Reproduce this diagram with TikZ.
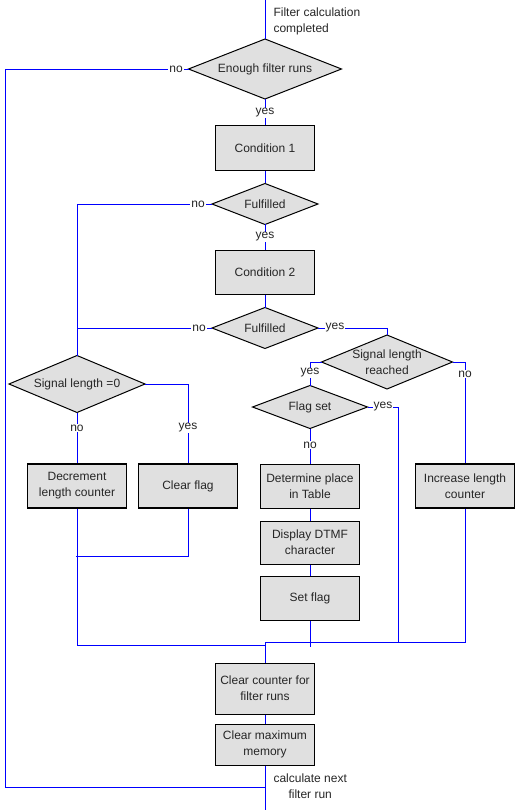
\documentclass[tikz,border=0pt]{standalone}
\usepackage{fontspec}
\setmainfont{Liberation Sans}
\usetikzlibrary{shapes.geometric}
\begin{document}
\begin{tikzpicture}[x=1pt,y=-1pt,
  every node/.style={font=\fontsize{12}{16}\selectfont, text=black!85},
  conn/.style={draw=blue, line width=0.9pt},
  box/.style={draw=black, line width=1pt, fill=black!12, inner sep=0pt, align=center, minimum width=99pt, minimum height=44pt},
  tbox/.style={box, line width=1.7pt},
  dia/.style={diamond, draw=black, line width=1pt, fill=black!12, inner sep=0pt, outer sep=0pt},
  dlab/.style={align=center, font=\fontsize{12}{16}\selectfont, text=black!85},
  yn/.style={fill=white, inner sep=1pt}
]
\useasboundingbox (0,0) rectangle (531,810);

% diamonds
\node[dia, minimum width=153pt, minimum height=60pt, label={[dlab]center:Enough filter runs}] (d1) at (265,69) {};
\node[dia, minimum width=106pt, minimum height=41pt, label={[dlab]center:Fulfilled}] (f1) at (265,204) {};
\node[dia, minimum width=106pt, minimum height=41pt, label={[dlab]center:Fulfilled}] (f2) at (265,328) {};
\node[dia, minimum width=131pt, minimum height=54pt, label={[dlab]center:Signal length\\reached}] (slr) at (387,362) {};
\node[dia, minimum width=115pt, minimum height=43pt, label={[dlab]center:Flag set}] (fs) at (310,407) {};
\node[dia, minimum width=136pt, minimum height=57pt, label={[dlab]center:Signal length =0}] (sl0) at (77,384) {};

% boxes
\node[box, minimum height=45pt] (c1) at (265,148.5) {Condition 1};
\node[box] (c2) at (265,272) {Condition 2};
\node[tbox] (dec) at (77,486) {Decrement\\length counter};
\node[tbox] (cf) at (188,486) {Clear flag};
\node[box] (det) at (310,486) {Determine place\\in Table};
\node[tbox] (inc) at (465,486) {Increase length\\counter};
\node[box, minimum height=43pt] (disp) at (310,542.5) {Display DTMF\\character};
\node[box] (sf) at (310,598) {Set flag};
\node[box, minimum height=51pt] (cc) at (265,688.5) {Clear counter for\\filter runs};
\node[box, minimum height=41pt] (cm) at (265,744.5) {Clear maximum\\memory};

% free texts
\node[anchor=west, align=left] (t1) at (270,21) {Filter calculation\\completed};
\node[anchor=west, align=center] (t2) at (270,786.5) {calculate next\\filter run};

% coordinates
\coordinate (top) at (265,0);
\coordinate (bot) at (265,810);
\coordinate (lt) at (5,69);
\coordinate (lb) at (5,787);
\coordinate (mb) at (265,787);
\coordinate (f1l) at (77,204);
\coordinate (f2l) at (77,328);
\coordinate (f2r) at (387,328);
\coordinate (slrl) at (310,362);
\coordinate (slrr) at (465,362);
\coordinate (fsr) at (398,407);
\coordinate (fsb) at (398,643);
\coordinate (sfb) at (310,647);
\coordinate (incb) at (465,642);
\coordinate (mj) at (265,642);
\coordinate (sl0r) at (188,384);
\coordinate (decb) at (77,645);
\coordinate (mj2) at (265,645);
\coordinate (cfb) at (188,556);
\coordinate (cfl) at (76,556);

% connectors
\draw[conn] (top) -- (d1.north);
\draw[conn] (d1.west) -- (lt) -- (lb) -- (mb);
\draw[conn] (d1.south) -- (c1.north);
\draw[conn] (c1.south) -- (f1.north);
\draw[conn] (f1.west) -- (f1l) -- (sl0.north);
\draw[conn] (f1.south) -- (c2.north);
\draw[conn] (c2.south) -- (f2.north);
\draw[conn] (f2.west) -- (f2l);
\draw[conn] (f2.east) -- (f2r) -- (slr.north);
\draw[conn] (slr.west) -- (slrl) -- (fs.north);
\draw[conn] (slr.east) -- (slrr) -- (inc.north);
\draw[conn] (fs.east) -- (fsr) -- (fsb);
\draw[conn] (fs.south) -- (det.north);
\draw[conn] (det.south) -- (disp.north);
\draw[conn] (disp.south) -- (sf.north);
\draw[conn] (sf.south) -- (sfb);
\draw[conn] (inc.south) -- (incb) -- (mj) -- (cc.north);
\draw[conn] (sl0.east) -- (sl0r) -- (cf.north);
\draw[conn] (sl0.south) -- (dec.north);
\draw[conn] (dec.south) -- (decb) -- (mj2);
\draw[conn] (cf.south) -- (cfb) -- (cfl);
\draw[conn] (cc.south) -- (cm.north);
\draw[conn] (cm.south) -- (bot);

% yes/no labels
\node[yn] (n1) at (176,69) {no};
\node[yn] (y1) at (265,113) {yes};
\node[yn] (n2) at (198,204) {no};
\node[yn] (y2) at (265,237) {yes};
\node[yn] (n3) at (199,328) {no};
\node[yn] (y3) at (335,328) {yes};
\node[yn] (y4) at (310,373) {yes};
\node[yn] (n4) at (465,374) {no};
\node[yn] (y5) at (383,407) {yes};
\node[yn] (n5) at (310,445) {no};
\node[yn] (n6) at (77,428) {no};
\node[yn] (y6) at (188,428) {yes};
\end{tikzpicture}
\end{document}
